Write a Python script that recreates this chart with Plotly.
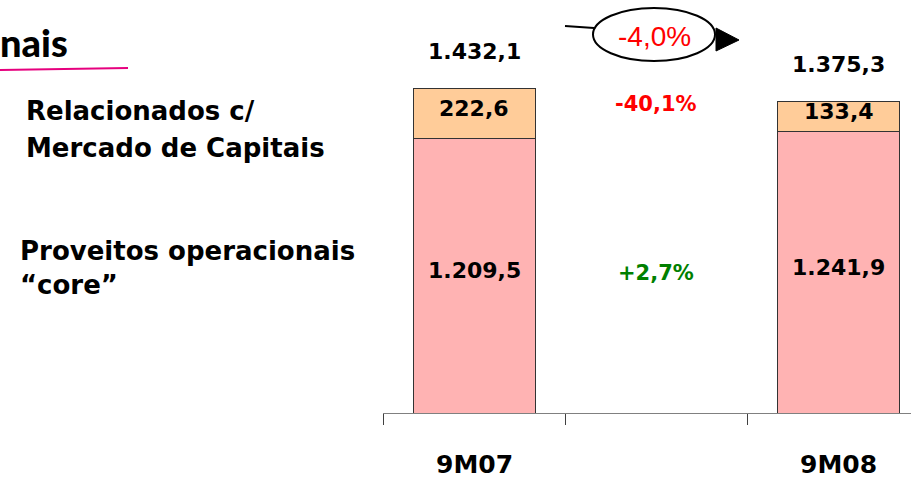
import plotly.graph_objects as go

# ---------------- data ----------------
periods = ["9M07", "9M08"]
core = [1209.5, 1241.9]          # Proveitos operacionais "core"
capital = [222.6, 133.4]         # Relacionados c/ Mercado de Capitais
totals = [1432.1, 1375.3]
label_capital = ["Relacionados c/", "Mercado de Capitais"]
label_core = ["Proveitos operacionais", "\u201ccore\u201d"]
title_text = "nais"


def fmt_num(v):
    s = f"{v:,.1f}"
    return s.replace(",", "X").replace(".", ",").replace("X", ".")


def fmt_pct(v, sign=True):
    s = f"{v:+.1f}%" if sign else f"{v:.1f}%"
    return s.replace(".", ",")


chg_total = (totals[1] / totals[0] - 1) * 100
chg_cap = (capital[1] / capital[0] - 1) * 100
chg_core = (core[1] / core[0] - 1) * 100

# ---------------- layout geometry ----------------
W, H = 911, 480
L, R, T, B = 383, 0, 13, 67
PW, PH = W - L - R, H - T - B
CAT_PX = 182.3
PX_PER_UNIT = 0.2267
xpos = [2 * i for i in range(len(periods))]


def px(x):
    return (x - L) / PW


def py(y):
    return (H - B - y) / PH


FONT = "DejaVu Sans"
fig = go.Figure()
fig.add_trace(go.Bar(
    x=xpos, y=core, width=0.67, name=" ".join(label_core),
    marker=dict(color="#FFB3B3", line=dict(color="#333333", width=1)),
    hoverinfo="skip"))
fig.add_trace(go.Bar(
    x=xpos, y=capital, width=0.67, name=" ".join(label_capital),
    marker=dict(color="#FFCC99", line=dict(color="#333333", width=1)),
    hoverinfo="skip"))

ann = []


def add(**kw):
    kw.setdefault("xanchor", "center")
    kw.setdefault("yanchor", "middle")
    kw.setdefault("showarrow", False)
    ann.append(kw)


for i, xp in enumerate(xpos):
    add(x=xp, y=totals[i], xref="x", yref="y", yshift=37,
        text=fmt_num(totals[i]),
        font=dict(family=FONT, size=22, color="#000", weight="bold"))
    add(x=xp, y=core[i] + capital[i] / 2, xref="x", yref="y", yshift=5,
        text=fmt_num(capital[i]),
        font=dict(family=FONT, size=22, color="#000", weight="bold"))
    add(x=xp, y=core[i] / 2, xref="x", yref="y", yshift=5,
        text=fmt_num(core[i]),
        font=dict(family=FONT, size=22, color="#000", weight="bold"))
    add(x=xp, y=py(465), xref="x", yref="paper",
        text=periods[i],
        font=dict(family=FONT, size=25, color="#000", weight="bold"))

# change percentages in the middle column
add(x=1, y=py(104), xref="x", yref="paper", text=fmt_pct(chg_cap),
    font=dict(family=FONT, size=21, color="#FF0000", weight="bold"))
add(x=1, y=py(273), xref="x", yref="paper", text=fmt_pct(chg_core),
    font=dict(family=FONT, size=21, color="#008000", weight="bold"))
add(x=px(654), y=py(36), xref="paper", yref="paper", text=fmt_pct(chg_total),
    font=dict(family="Liberation Sans, Arial", size=28, color="#FF0000"))

# left side labels
for txt, xl, yc in [(label_capital[0], 24, 111), (label_capital[1], 24, 148),
                    (label_core[0], 18, 251), (label_core[1], 18, 285)]:
    add(x=px(xl), y=py(yc), xref="paper", yref="paper", text=txt, xanchor="left",
        font=dict(family=FONT, size=26, color="#000", weight="bold"))

# title fragment
add(x=px(-2), y=py(42), xref="paper", yref="paper", text=title_text,
    xanchor="left",
    font=dict(family="Lato", size=38, color="#000", weight=900))

shapes = [
    dict(type="line", xref="paper", yref="paper", x0=px(0), y0=py(70), x1=px(128), y1=py(68),
         line=dict(color="#E6007E", width=2)),
    dict(type="line", xref="paper", yref="paper", x0=px(565), y0=py(26), x1=px(594), y1=py(28),
         line=dict(color="#000", width=2)),
    dict(type="circle", xref="paper", yref="paper", x0=px(593), x1=px(715), y0=py(61), y1=py(8),
         line=dict(color="#000", width=2), fillcolor="rgba(0,0,0,0)"),
    dict(type="path", xref="paper", yref="paper",
         path=f"M {px(716)},{py(28)} L {px(739)},{py(40)} L {px(716)},{py(51)} Z",
         fillcolor="#000", line=dict(color="#000", width=1)),
]

fig.update_layout(
    width=W, height=H, barmode="stack", showlegend=False,
    margin=dict(l=L, r=R, t=T, b=B, pad=0),
    paper_bgcolor="#FFFFFF", plot_bgcolor="#FFFFFF",
    xaxis=dict(range=[-0.5, -0.5 + PW / CAT_PX], tickvals=[-0.5, 0.5, 1.5, 2.5],
               showticklabels=False, ticks="outside", ticklen=11, tickcolor="#404040",
               showline=True, linecolor="#808080", linewidth=1, showgrid=False, zeroline=False,
               fixedrange=True),
    yaxis=dict(range=[0, PH / PX_PER_UNIT], visible=False, fixedrange=True),
    annotations=ann, shapes=shapes,
)

fig.write_html("out.html", config={"displayModeBar": False},
               post_script="document.body.style.margin='0px';document.body.style.overflow='hidden';")
